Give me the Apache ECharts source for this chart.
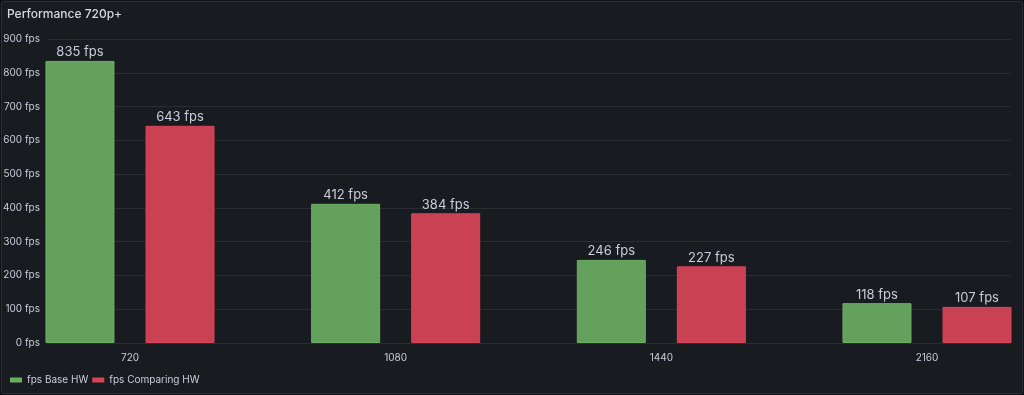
<!DOCTYPE html>
<html>
<head>
<meta charset="utf-8">
<script src="https://cdn.jsdelivr.net/npm/echarts@6/dist/echarts.min.js"></script>
<style>
html,body{margin:0;padding:0;background:#111217;}
#panel{position:absolute;left:1px;top:1px;width:1020px;height:391px;background:#181b1f;border:1px solid #2c2f35;border-radius:3px;box-sizing:content-box;}
#title{position:absolute;left:7px;top:6px;font-family:Inter,"Open Sans",sans-serif;font-size:12px;font-weight:500;color:#d8d9de;}
#chart{position:absolute;left:0;top:0;width:1024px;height:395px;}
</style>
</head>
<body>
<div id="panel"></div>
<div id="chart"></div>
<div id="title">Performance 720p+</div>
<script>
const categories = ['720', '1080', '1440', '2160'];
const baseHW = [835, 412, 246, 118];
const comparingHW = [643, 384, 227, 107];
const seriesNames = ['fps Base HW', 'fps Comparing HW'];
const yTicks = { min: 0, max: 900, interval: 100 };

const font = 'Inter, "Open Sans", sans-serif';
const chart = echarts.init(document.getElementById('chart'), null, { renderer: 'canvas' });
const labelOpt = {
  show: true, position: 'top', distance: 2,
  formatter: p => p.value + ' fps',
  color: '#ccccdc', fontSize: 13, fontFamily: font
};
chart.setOption({
  backgroundColor: 'transparent',
  animation: false,
  legend: {
    left: 5, top: 370, itemWidth: 10, itemHeight: 3, itemGap: 4,
    icon: 'rect',
    textStyle: { color: '#ccccdc', fontSize: 10, fontFamily: font, padding: [0, 0, 0, 1] },
    data: seriesNames
  },
  grid: [
    { left: 45, right: 13, top: 39, bottom: 52 },
    { left: 130, right: 97, top: 39, bottom: 52 }
  ],
  xAxis: [
    { type: 'value', gridIndex: 0, show: false, min: 0, max: 1 },
    { type: 'category', gridIndex: 1, data: categories, boundaryGap: false,
      axisLine: { show: false }, axisTick: { show: false },
      axisLabel: { color: '#ccccdc', fontSize: 10, fontFamily: font, margin: 10 } }
  ],
  yAxis: [
    { type: 'value', gridIndex: 0, min: yTicks.min, max: yTicks.max, interval: yTicks.interval,
      axisLine: { show: false }, axisTick: { show: false },
      axisLabel: { color: '#ccccdc', fontSize: 10, fontFamily: font, margin: 7, formatter: v => v + ' fps' },
      splitLine: { lineStyle: { color: 'rgba(204,204,220,0.10)', width: 1 } } },
    { type: 'value', gridIndex: 1, min: yTicks.min, max: yTicks.max, interval: yTicks.interval, show: false,
      splitLine: { show: false } }
  ],
  series: [
    { name: seriesNames[0], type: 'bar', xAxisIndex: 1, yAxisIndex: 1, data: baseHW,
      barWidth: 69, barGap: '45%', clip: false,
      itemStyle: { color: '#63a15c', borderColor: '#6cb064', borderWidth: 1 },
      label: labelOpt },
    { name: seriesNames[1], type: 'bar', xAxisIndex: 1, yAxisIndex: 1, data: comparingHW,
      barWidth: 69, barGap: '45%', clip: false,
      itemStyle: { color: '#c94153', borderColor: '#d94558', borderWidth: 1 },
      label: labelOpt }
  ],
  color: ['#73bf69', '#f2495c']
});
</script>
</body>
</html>
